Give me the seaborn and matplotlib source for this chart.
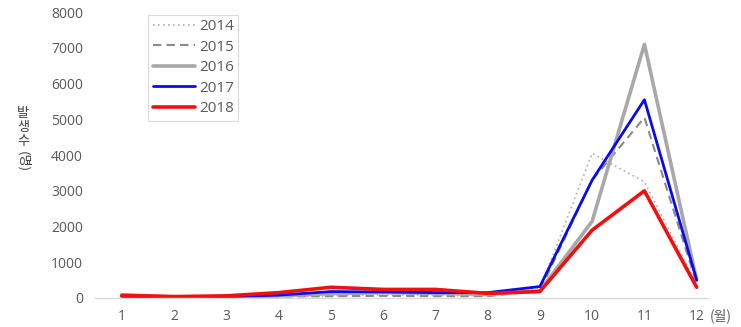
import matplotlib
matplotlib.use("Agg")
import matplotlib.pyplot as plt
import seaborn as sns
import pandas as pd

months = list(range(1, 13))
y2014 = [30, 20, 20, 40, 60, 80, 70, 60, 250, 4050, 3250, 400]
y2015 = [30, 20, 20, 40, 50, 60, 50, 50, 200, 3300, 5050, 400]
y2016 = [40, 30, 30, 60, 120, 150, 130, 100, 200, 2150, 7100, 500]
y2017 = [50, 30, 40, 80, 180, 170, 150, 150, 320, 3300, 5550, 500]
y2018 = [80, 40, 60, 150, 300, 240, 240, 130, 180, 1900, 3000, 300]
years = ["2014", "2015", "2016", "2017", "2018"]
series = [y2014, y2015, y2016, y2017, y2018]

sns.set_theme(style="white")
plt.rcParams["font.family"] = ["Open Sans", "Noto Sans CJK KR", "DejaVu Sans"]

df = pd.DataFrame({
    "month": months * len(years),
    "value": [v for s in series for v in s],
    "year": [y for y in years for _ in months],
})

styles = {
    "2014": dict(color="#b0b0b0", linestyle=(0, (1, 2)), linewidth=1.2),
    "2015": dict(color="#8a8a8a", linestyle=(0, (4, 2.5)), linewidth=1.5),
    "2016": dict(color="#a8a8a8", linestyle="-", linewidth=2.6),
    "2017": dict(color="#0a0af0", linestyle="-", linewidth=2.0),
    "2018": dict(color="#f01010", linestyle="-", linewidth=2.6),
}

fig = plt.figure(figsize=(7.41, 3.27), dpi=100)
ax = fig.add_axes([0.128, 0.0887, 0.827, 0.874])

for y in years:
    sub = df[df["year"] == y]
    sns.lineplot(data=sub, x="month", y="value", ax=ax, label=y, **styles[y])

ax.set_xlim(0.484, 12.21)
ax.set_ylim(0, 8000)
ax.set_xticks(months)
ax.set_yticks(range(0, 8001, 1000))
ax.set_xlabel("")
ax.set_ylabel("")
for s in ["left", "right", "top"]:
    ax.spines[s].set_visible(False)
ax.spines["bottom"].set_color("#d9d9d9")
ax.spines["bottom"].set_linewidth(1.0)
ax.tick_params(axis="both", length=0, labelsize=10, labelcolor="#595959")
ax.tick_params(axis="y", pad=8.5)
ax.tick_params(axis="x", pad=8)

kr = ["Noto Sans CJK KR", "DejaVu Sans"]
W, H = 741.0, 327.0
for ch, ypix in zip(["발", "생", "수"], [114, 128, 142]):
    fig.text(23 / W, 1 - ypix / H, ch, ha="center", va="center",
             fontsize=9.5, color="#404040", family=kr)
fig.text(23 / W, 1 - 162 / H, "(명)", rotation=270, ha="center", va="center",
         fontsize=9.5, color="#404040", family=kr)
fig.text(0.958, 0.035, "(월)", ha="left", va="center", fontsize=10, color="#595959",
         family=kr)

leg = ax.legend(loc="upper left", bbox_to_anchor=(0.075, 1.017), frameon=True,
                fontsize=11, handlelength=2.75, handletextpad=0.3,
                labelspacing=0.36, borderpad=0.28, fancybox=False)
leg.get_frame().set_edgecolor("#d0d0d0")
leg.get_frame().set_linewidth(0.8)
for t in leg.get_texts():
    t.set_color("#595959")

fig.savefig("out.png", dpi=100)
